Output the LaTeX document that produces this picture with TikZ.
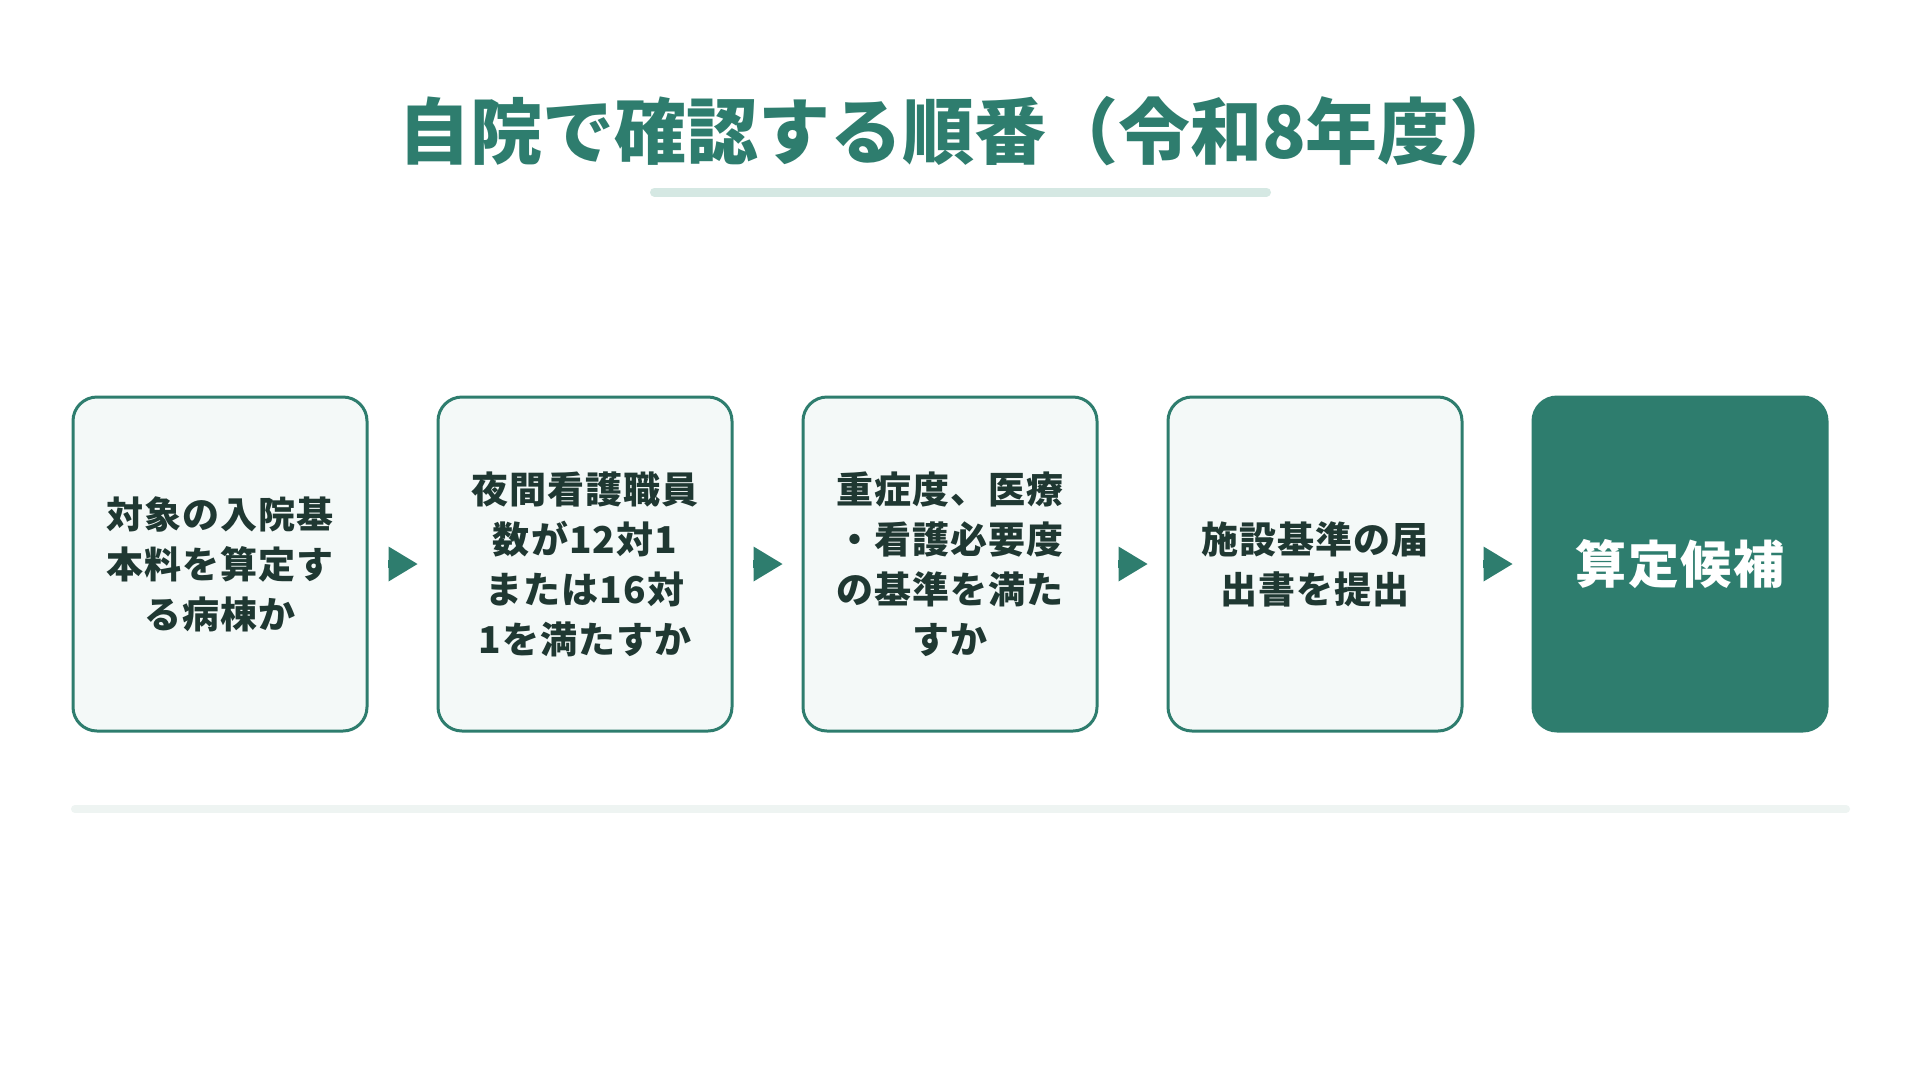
\documentclass[tikz,border=0pt]{standalone}
\usepackage{fontspec}
\newfontfamily\jp{Noto Sans CJK JP}
\newfontfamily\jpbox{Noto Sans CJK JP}[LetterSpace=3]
\usetikzlibrary{arrows.meta}
\definecolor{teal1}{HTML}{2E7D6E}
\definecolor{boxfill}{HTML}{F4F9F8}
\definecolor{ink}{HTML}{1F3832}
\definecolor{ulinec}{HTML}{D5E8E3}
\definecolor{baselinec}{HTML}{EEF4F2}
\begin{document}
\begin{tikzpicture}[x=1pt,y=-1pt,
  stepbox/.style={draw=teal1, line width=3pt, fill=boxfill, rounded corners=24pt,
    minimum width=294pt, minimum height=334pt, inner sep=0pt, align=center,
    text=ink, font=\jpbox\bfseries\fontsize{37}{50}\selectfont},
  goalbox/.style={stepbox, fill=teal1, text=white, font=\jpbox\bfseries\fontsize{51}{60}\selectfont},
  flowarrow/.style={draw=teal1, line width=8pt,
    -{Triangle[length=29pt,width=35pt,line width=0pt]},
    shorten <=19.5pt, shorten >=19pt},
  titlefont/.style={font=\jp\bfseries\fontsize{72}{80}\selectfont, text=teal1}]
\useasboundingbox (0,0) rectangle (1920,1080);
\fill[white] (0,0) rectangle (1920,1080);
\node[titlefont, anchor=base, inner sep=0pt] (title) at (960,158) {自院で確認する順番（令和8年度）};
\draw[ulinec, line width=9pt, line cap=round] (654.5,192) -- (1266.5,192);
\node[stepbox] (b1) at (220,564) {対象の入院基\\本料を算定す\\る病棟か};
\node[stepbox] (b2) at (585,564) {夜間看護職員\\数が12対1\\または16対\\1を満たすか};
\node[stepbox] (b3) at (950,564) {重症度、医療\\・看護必要度\\の基準を満た\\すか};
\node[stepbox] (b4) at (1315,564) {施設基準の届\\出書を提出};
\node[goalbox] (b5) at (1680,564) {算定候補};
\draw[flowarrow] (b1) -- (b2);
\draw[flowarrow] (b2) -- (b3);
\draw[flowarrow] (b3) -- (b4);
\draw[flowarrow] (b4) -- (b5);
\draw[baselinec, line width=8pt, line cap=round] (75,809) -- (1846,809);
\end{tikzpicture}
\end{document}
